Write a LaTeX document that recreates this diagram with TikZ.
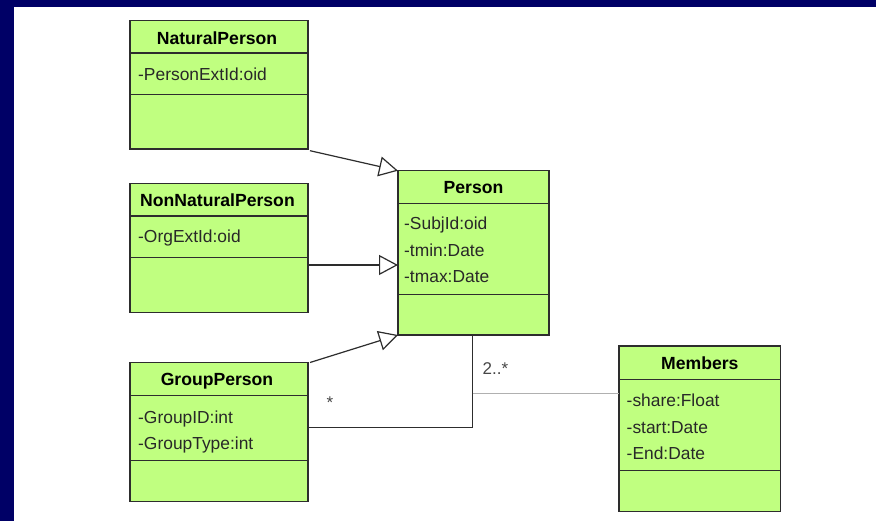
\documentclass[tikz,border=0pt]{standalone}
\usepackage{fontspec}
\setmainfont{Liberation Sans}
\usetikzlibrary{arrows.meta}
\definecolor{bgblue}{RGB}{0,0,102}
\definecolor{classfill}{RGB}{192,255,128}
\definecolor{linegray}{RGB}{45,45,45}
\definecolor{assocgray}{RGB}{176,176,176}
\definecolor{txtgray}{RGB}{40,40,40}
\definecolor{multgray}{RGB}{70,70,70}
\begin{document}
\begin{tikzpicture}[x=1pt,y=-1pt,
  classbox/.style={draw=linegray, line width=1.4pt, fill=classfill, anchor=north west, inner sep=0pt, outer sep=0pt},
  sepline/.style={draw=linegray, line width=1.4pt},
  title/.style={font=\fontsize{17.6}{19}\selectfont\bfseries, anchor=base, inner sep=0pt, text=black},
  attr/.style={font=\fontsize{17.4}{19}\selectfont, anchor=base west, inner sep=0pt, text=txtgray},
  gen/.style={draw=linegray, line width=1.2pt, -{Triangle[open, length=19pt, width=20pt, line width=1.2pt]}},
  assoc/.style={draw=linegray, line width=1.2pt},
  assocl/.style={draw=assocgray, line width=1.2pt},
  mult/.style={font=\fontsize{17}{19}\selectfont, text=multgray, anchor=base west, inner sep=0pt}]
% background
\fill[bgblue] (0,0) rectangle (876,521);
\fill[white] (14,7) rectangle (876,521);
\useasboundingbox (0,0) rectangle (876,521);

% NaturalPerson
\node[classbox, minimum width=178pt, minimum height=128.3pt] (np) at (130,20.7) {};
\draw[sepline] (130,53) -- (308,53);
\draw[sepline] (130,94.3) -- (308,94.3);
\node[title] (npT) at (217,45) {NaturalPerson};
\node[attr] (npA) at (138,81) {-PersonExtId:oid};

% NonNaturalPerson
\node[classbox, minimum width=178pt, minimum height=129.4pt] (nnp) at (130,183.3) {};
\draw[sepline] (130,216) -- (308,216);
\draw[sepline] (130,257.3) -- (308,257.3);
\node[title] (nnpT) at (217.5,207) {NonNaturalPerson};
\node[attr] (nnpA) at (138,243) {-OrgExtId:oid};

% Person
\node[classbox, minimum width=151pt, minimum height=164.3pt] (p) at (398,170.7) {};
\draw[sepline] (398,203.3) -- (549,203.3);
\draw[sepline] (398,294.7) -- (549,294.7);
\node[title] (pT) at (473.5,194) {Person};
\node[attr] (pA1) at (404,230) {-SubjId:oid};
\node[attr] (pA2) at (404,256.5) {-tmin:Date};
\node[attr] (pA3) at (404,283) {-tmax:Date};

% GroupPerson
\node[classbox, minimum width=178pt, minimum height=139pt] (gp) at (130,362.7) {};
\draw[sepline] (130,395.3) -- (308,395.3);
\draw[sepline] (130,460.7) -- (308,460.7);
\node[title] (gpT) at (217,386) {GroupPerson};
\node[attr] (gpA1) at (138,423) {-GroupID:int};
\node[attr] (gpA2) at (138,449) {-GroupType:int};

% Members
\node[classbox, minimum width=161.7pt, minimum height=165.7pt] (m) at (619,346) {};
\draw[sepline] (619,379.3) -- (780.7,379.3);
\draw[sepline] (619,470.7) -- (780.7,470.7);
\node[title] (mT) at (699.8,370) {Members};
\node[attr] (mA1) at (626.5,406.5) {-share:Float};
\node[attr] (mA2) at (626.5,433) {-start:Date};
\node[attr] (mA3) at (626.5,459) {-End:Date};

% generalisations
\coordinate (npout) at (310,150.7);
\draw[gen] (npout) -- (p.north west);
\coordinate (nnpout) at (308.3,265);
\draw[gen] (nnpout) -- (nnpout -| p.west);
\coordinate (gpout) at (310,362.5);
\draw[gen] (gpout) -- (p.south west);

% association
\coordinate (gpassoc) at (308,427.7);
\coordinate (pbot) at (472.7,335);
\draw[assoc] (gpassoc) -- (gpassoc -| pbot) -- (pbot);
\coordinate (junc) at (472.7,393.3);
\draw[assocl] (junc) -- (junc -| m.west);
\node[mult] (mult1) at (482.5,375) {2..*};
\node[mult] (mult2) at (326.5,409) {*};
\end{tikzpicture}
\end{document}
